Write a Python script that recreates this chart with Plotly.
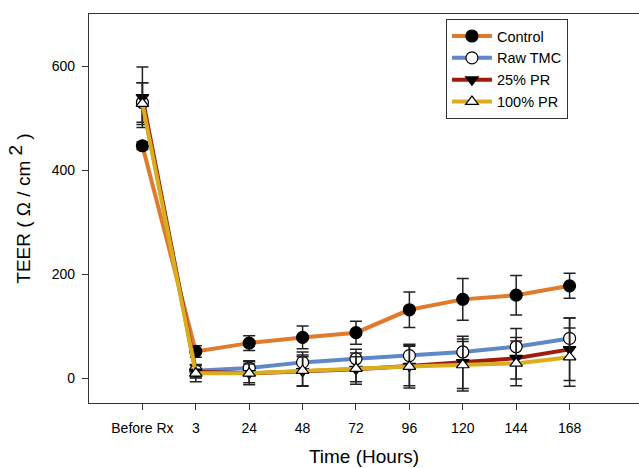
import plotly.graph_objects as go

categories = ["Before Rx", "3", "24", "48", "72", "96", "120", "144", "168"]

control = [447, 52, 68, 79, 88, 132, 152, 160, 178]
control_err = [7, 11, 14, 22, 22, 34, 40, 38, 24]

raw_tmc = [530, 15, 20, 31, 38, 44, 51, 61, 77]
raw_tmc_err = [38, 12, 14, 20, 18, 22, 20, 35, 39]

pr25 = [540, 13, 10, 14, 18, 24, 31, 39, 56]
pr25_err = [58, 12, 18, 28, 24, 38, 50, 40, 60]

pr100 = [528, 10, 10, 15, 19, 23, 26, 29, 41]
pr100_err = [40, 16, 22, 30, 30, 41, 50, 43, 56]

series = [
    ("Control", control, control_err, "#E07A2C", "circle", "black", 12),
    ("Raw TMC", raw_tmc, raw_tmc_err, "#5E88C8", "circle", "white", 12),
    ("25% PR", pr25, pr25_err, "#A11B0C", "triangle-down", "black", 11),
    ("100% PR", pr100, pr100_err, "#D9AE1C", "triangle-up", "white", 11),
]

fig = go.Figure()
for name, vals, errs, color, sym, fill, size in series:
    fig.add_trace(go.Scatter(
        x=categories, y=vals, name=name, mode="lines+markers",
        line=dict(color=color, width=4),
        marker=dict(symbol=sym, color=fill, size=size,
                    line=dict(color="black", width=1.2)),
        error_y=dict(type="data", array=errs, visible=True,
                     color="#222222", thickness=1.5, width=6),
    ))

font_family = "Liberation Sans, Arial, sans-serif"
fig.update_layout(
    width=639, height=468,
    margin=dict(l=89, r=0, t=14, b=65),
    paper_bgcolor="white", plot_bgcolor="white",
    font=dict(family=font_family, color="black", size=14),
    showlegend=True,
    legend=dict(x=0.649, y=0.987, xanchor="left", yanchor="top",
                bordercolor="#333333", borderwidth=1,
                font=dict(size=14.5, family=font_family),
                bgcolor="white", itemwidth=40,
                tracegroupgap=0),
    xaxis=dict(
        type="category", range=[-1, 9.3],
        showline=True, linecolor="#333333", linewidth=1.2, mirror=True,
        ticks="outside", ticklen=6, tickcolor="#333333",
        showgrid=False, zeroline=False,
        tickfont=dict(size=14), ticklabelstandoff=6,
        title=dict(text="Time (Hours)", font=dict(size=19), standoff=14),
    ),
    yaxis=dict(
        range=[-47, 700],
        tickvals=[0, 200, 400, 600],
        showline=True, linecolor="#333333", linewidth=1.2,
        ticks="outside", ticklen=6, tickcolor="#333333",
        showgrid=False, zeroline=False,
        tickfont=dict(size=14), ticklabelstandoff=4,
        title=dict(text="TEER ( Ω / cm <sup><span style='font-size:19px'>2</span></sup> )",
                   font=dict(size=19), standoff=16),
    ),
)

fig.write_html("out.html", config={"displayModeBar": False},
               post_script="document.body.style.margin='0';")
